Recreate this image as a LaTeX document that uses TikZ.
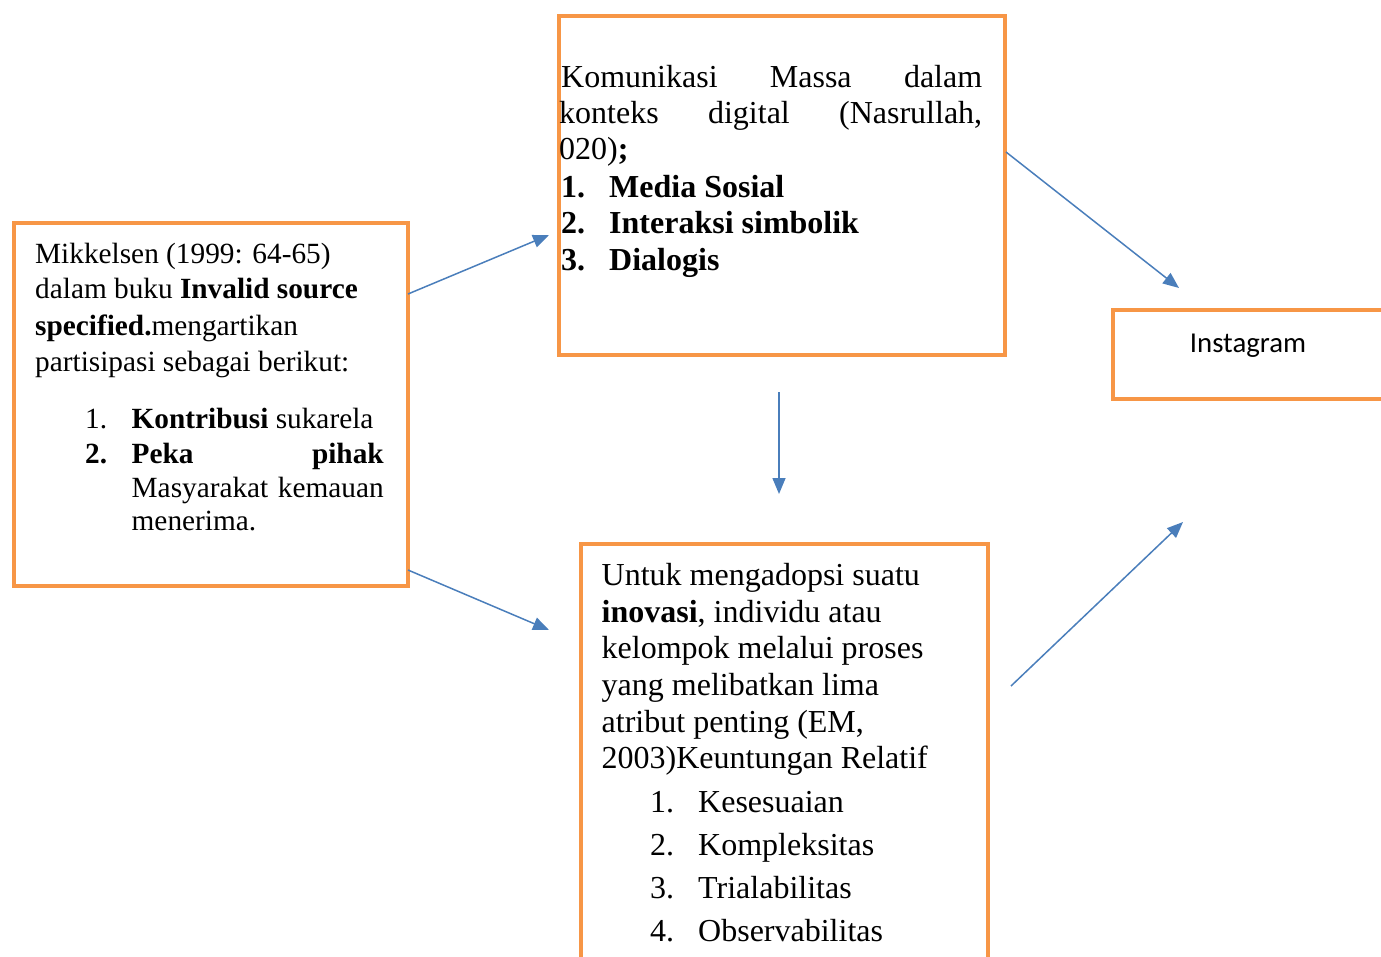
\documentclass[tikz,border=0pt]{standalone}
\usepackage{fontspec}
\setmainfont{Liberation Serif}
\newfontfamily\calibrifont{Carlito}
\usetikzlibrary{arrows.meta}
\definecolor{boxorange}{HTML}{F79646}
\definecolor{arrowblue}{HTML}{4A7EBB}
\tikzset{
  box/.style={draw=boxorange, line width=4pt, fill=none, inner sep=0pt, anchor=north west},
  txt/.style={anchor=base west, inner sep=0pt, font=\fontsize{29.3}{36}\selectfont},
  txtb/.style={anchor=base west, inner sep=0pt, font=\fontsize{32}{38}\selectfont},
  conn/.style={draw=arrowblue, line width=1.5pt, -{Triangle[length=16pt,width=13pt]}}
}
\begin{document}
\begin{tikzpicture}[x=1pt,y=-1pt]
\useasboundingbox (0,0) rectangle (1381,956);
\clip (0,0) rectangle (1381,956);
% boxes
\node[box, minimum width=394pt, minimum height=363pt] (lbox) at (12,221) {};
\node[box, minimum width=446pt, minimum height=339pt] (tbox) at (557,14) {};
\node[box, minimum width=407pt, minimum height=460pt] (bbox) at (579,542) {};
\node[box, minimum width=320pt, minimum height=89pt] (ibox) at (1111,308) {};
% left box text
\node[txt] (l1) at (35,263) {Mikkelsen (1999: 64-65)};
\node[txt] (l2) at (35,298) {dalam buku \textbf{Invalid source}};
\node[txt] (l3) at (35,335) {\textbf{specified.}mengartikan};
\node[txt] (l4) at (35,371) {partisipasi sebagai berikut:};
\node[txt] (l5n) at (85,428) {1.};
\node[txt] (l5) at (131.5,428) {\textbf{Kontribusi} sukarela};
\node[txt] (l6n) at (85,463) {\textbf{2.}};
\node[txt] (l6) at (131.5,463) {\makebox[252pt][s]{\textbf{Peka} \textbf{pihak}}};
\node[txt] (l7) at (131.5,497) {\makebox[252pt][s]{Masyarakat kemauan}};
\node[txt] (l8) at (131.5,530) {menerima.};
% top box text
\node[txtb] (t1) at (561,87) {\makebox[421pt][s]{Komunikasi Massa dalam}};
\node[txtb] (t2) at (559,123) {\makebox[423pt][s]{konteks digital (Nasrullah,}};
\node[txtb] (t3) at (559,159) {020)\textbf{;}};
\node[txtb] (t4n) at (561,197) {\textbf{1.}};
\node[txtb] (t4) at (609,197) {\textbf{Media Sosial}};
\node[txtb] (t5n) at (561,233) {\textbf{2.}};
\node[txtb] (t5) at (609,233) {\textbf{Interaksi simbolik}};
\node[txtb] (t6n) at (561,270) {\textbf{3.}};
\node[txtb] (t6) at (609,270) {\textbf{Dialogis}};
% bottom box text
\node[txtb] (b1) at (601.5,585) {Untuk mengadopsi suatu};
\node[txtb] (b2) at (601.5,622) {\textbf{inovasi}, individu atau};
\node[txtb] (b3) at (601.5,658) {kelompok melalui proses};
\node[txtb] (b4) at (601.5,695) {yang melibatkan lima};
\node[txtb] (b5) at (601.5,732) {atribut penting (EM,};
\node[txtb] (b6) at (601.5,768) {2003)Keuntungan Relatif};
\node[txtb] (b7n) at (650,812) {1.};
\node[txtb] (b7) at (698,812) {Kesesuaian};
\node[txtb] (b8n) at (650,855) {2.};
\node[txtb] (b8) at (698,855) {Kompleksitas};
\node[txtb] (b9n) at (650,898) {3.};
\node[txtb] (b9) at (698,898) {Trialabilitas};
\node[txtb] (b10n) at (650,941) {4.};
\node[txtb] (b10) at (698,941) {Observabilitas};
% instagram
\node[anchor=base, inner sep=0pt, font=\calibrifont\fontsize{28.8}{34}\selectfont] (insta) at (1248,352) {Instagram};
% connector end points
\coordinate (a1s) at (408,294);
\coordinate (a1e) at (549,235);
\coordinate (a2s) at (408,570);
\coordinate (a2e) at (549,630);
\coordinate (a3s) at (779,392);
\coordinate (a3e) at (779,494);
\coordinate (a4s) at (1006,152);
\coordinate (a4e) at (1179,288);
\coordinate (a5s) at (1011,686);
\coordinate (a5e) at (1183,522);
\draw[conn] (a1s) -- (a1e);
\draw[conn] (a2s) -- (a2e);
\draw[conn] (a3s) -- (a3e);
\draw[conn] (a4s) -- (a4e);
\draw[conn] (a5s) -- (a5e);
\end{tikzpicture}
\end{document}
